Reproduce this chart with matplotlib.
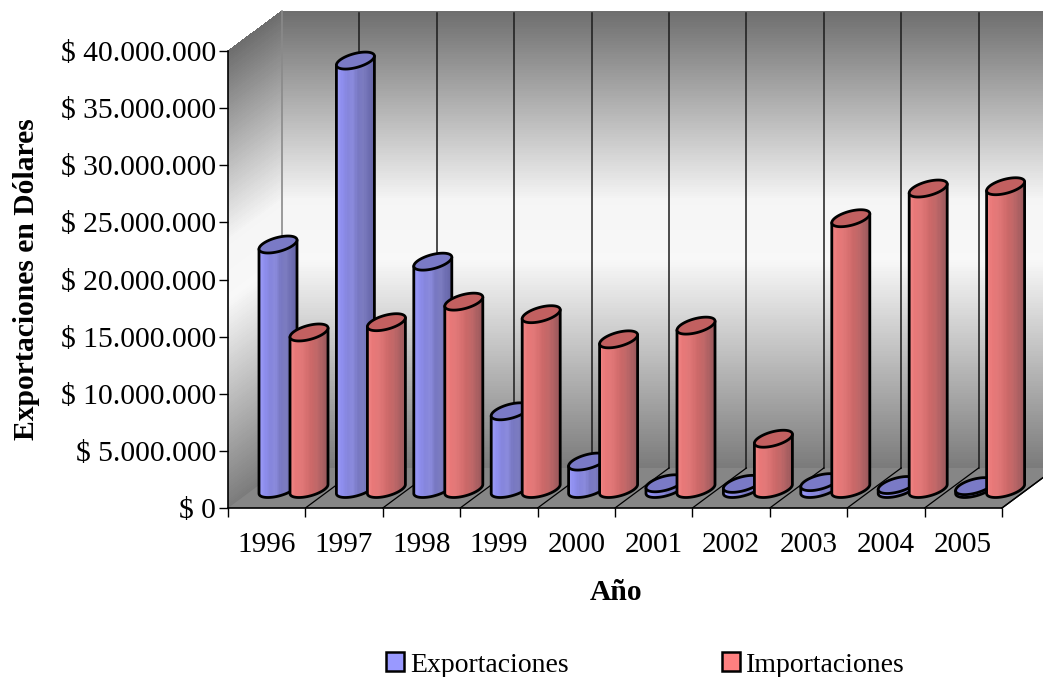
import numpy as np
import matplotlib
matplotlib.use('Agg')
import matplotlib.pyplot as plt
from matplotlib.colors import LinearSegmentedColormap
from matplotlib.patches import Patch, Polygon

plt.rcParams['font.family'] = ['Liberation Serif', 'DejaVu Serif']

years = ['1996', '1997', '1998', '1999', '2000', '2001', '2002', '2003', '2004', '2005']
exportaciones = [21.4e6, 37.5e6, 19.9e6, 6.8e6, 2.4e6, 0.5e6, 0.45e6, 0.6e6, 0.35e6, 0.25e6]
importaciones = [13.7e6, 14.6e6, 16.4e6, 15.3e6, 13.1e6, 14.3e6, 4.4e6, 23.7e6, 26.3e6, 26.5e6]
y_ticks = np.arange(0, 40000001, 5000000)
y_labels = ['$ 0', '$ 5.000.000', '$ 10.000.000', '$ 15.000.000', '$ 20.000.000',
            '$ 25.000.000', '$ 30.000.000', '$ 35.000.000', '$ 40.000.000']

W, H = 1043, 677
fig = plt.figure(figsize=(W / 100, H / 100), dpi=100)
fig.patch.set_facecolor('white')
ax = fig.add_axes([228 / W, 1 - 508 / H, 774 / W, 457 / H])
ax.set_xlim(0, 10)
ax.set_ylim(0, 40000000)
ax.patch.set_visible(False)

# sizes of one pixel in data units
px = 10 / 774
py = 40000000 / 457
depth_x = 54 * px
depth_y = 40 * py

################################################################################
### WALLS AND FLOOR
################################################################################
levels = np.linspace(0, 1, 201)
stops_y = [0, 0.414, 0.546, 1]
stops_v = [0.43, 0.96, 0.97, 0.48]
shade = np.interp((levels[:-1] + levels[1:]) / 2, stops_y, stops_v)[::-1][:, None]
heights = levels * 40000000

# back wall (runs off the right edge of the picture)
X, Y = np.meshgrid([depth_x, 10 + depth_x], heights + depth_y)
ax.pcolormesh(X, Y, shade, cmap='gray', vmin=0, vmax=1, clip_on=False, zorder=1)

# left wall, sheared
X = np.column_stack([0 * heights, 0 * heights + depth_x])
Y = np.column_stack([heights, heights + depth_y])
ax.pcolormesh(X, Y, shade, cmap='gray', vmin=0, vmax=1, clip_on=False, zorder=1)

ax.add_patch(Polygon([(0, 0), (10, 0), (10 + depth_x, depth_y), (depth_x, depth_y)],
                     fc='#868686', ec='none', clip_on=False, zorder=1))

for k in range(1, 11):
    ax.plot([k + depth_x] * 2, [depth_y, 40000000 + depth_y - 2 * py], color='#1c1c1c', lw=1.1,
            clip_on=False, zorder=2)
for k in range(1, 11):
    ax.plot([k, k + depth_x], [0, depth_y], color='black', lw=0.9, clip_on=False, zorder=2)
ax.plot([depth_x, depth_x], [depth_y, 40000000 + depth_y], color='#8a8a8a', lw=1.2,
        clip_on=False, zorder=2)
ax.plot([10, 10 + depth_x], [0, depth_y], color='black', lw=1.0, clip_on=False, zorder=2)

################################################################################
### CYLINDERS
################################################################################
blue_cm = LinearSegmentedColormap.from_list(
    'b', ['#9a9af6', '#8e8eee', '#8585dc', '#8b8bdc', '#7777c2', '#7c7cc0', '#6e6eb2', '#6666a6'])
red_cm = LinearSegmentedColormap.from_list(
    'r', ['#f08484', '#e87878', '#e27878', '#d87070', '#ca6868', '#c06868', '#ac6062', '#9a585c'])
half_w = 19 * px
base = 19 * py
slant = 4.5 * py
minor = 7.2 * py


def cylinder(xc, value, cmap, top_color, z):
    top = base + value
    t = np.linspace(0, 2 * np.pi, 80)
    ex = xc + half_w * np.cos(t)
    ey = slant * np.cos(t) + minor * np.sin(t)
    # lower half of the ellipse, left to right
    t2 = np.linspace(np.pi, 2 * np.pi, 40)
    lx = xc + half_w * np.cos(t2)
    ly = slant * np.cos(t2) + minor * np.sin(t2)
    outline = list(zip(lx, base + ly)) + [(xc + half_w, top + slant), (xc - half_w, top - slant)]
    xs = np.linspace(xc - half_w, xc + half_w, 31)
    ys = [base - 12 * py, top + 12 * py]
    mesh = ax.pcolormesh(xs, ys, np.linspace(0, 1, 30)[None, :], cmap=cmap, vmin=0, vmax=1, zorder=z + 0.1)
    mesh.set_clip_box(None)
    mesh.set_clip_path(Polygon(outline, transform=ax.transData))
    ax.add_patch(Polygon(outline, fc='none', ec='black', lw=2.0, joinstyle='round', clip_on=False, zorder=z + 0.2))
    ax.add_patch(Polygon(np.column_stack([ex, top + ey]), fc=top_color, ec='black', lw=2.0,
                         clip_on=False, zorder=z + 0.3))


for i in range(len(years)):
    cylinder(i + 50 * px, exportaciones[i], blue_cm, '#7a7ac6', 3 + 2 * i)
    cylinder(i + 81 * px, importaciones[i], red_cm, '#c26060', 4 + 2 * i)

################################################################################
### AXES AND TEXT
################################################################################
for name in ['top', 'right']:
    ax.spines[name].set_visible(False)
for name in ['left', 'bottom']:
    ax.spines[name].set_linewidth(1.2)
    ax.spines[name].set_zorder(40)

font_size = 21.3
ax.set_yticks(y_ticks)
ax.set_yticklabels(y_labels, fontsize=font_size)
ax.tick_params(axis='y', length=6.5, width=1, pad=2)
ax.set_xticks(np.arange(0, 11))
ax.set_xticklabels([])
ax.tick_params(axis='x', which='major', length=6.5, width=1)
ax.set_xticks(np.arange(10) + 0.5, minor=True)
ax.set_xticklabels(years, minor=True, fontsize=21)
ax.tick_params(axis='x', which='minor', length=0, pad=17)

ax.set_xlabel('Año', fontsize=font_size, fontweight='bold', va='center')
ax.xaxis.set_label_coords(0.5013, -85 / 457)
ax.set_ylabel('Exportaciones en Dólares', fontsize=font_size, fontweight='bold', va='center')
ax.yaxis.set_label_coords(-201 / 774, 0.5)

handles = [Patch(fc='#9999ff', ec='black', lw=1.8), Patch(fc='#ff8080', ec='black', lw=1.8)]
fig.legend(handles, ['Exportaciones', 'Importaciones'], ncol=2, frameon=False, fontsize=20,
           loc='lower left', bbox_to_anchor=(386 / W, 1 - 677.5 / H), borderpad=0, borderaxespad=0,
           handlelength=0.65, handleheight=0.65, handletextpad=0.23, columnspacing=5.5)

fig.savefig('out.png', dpi=100)
